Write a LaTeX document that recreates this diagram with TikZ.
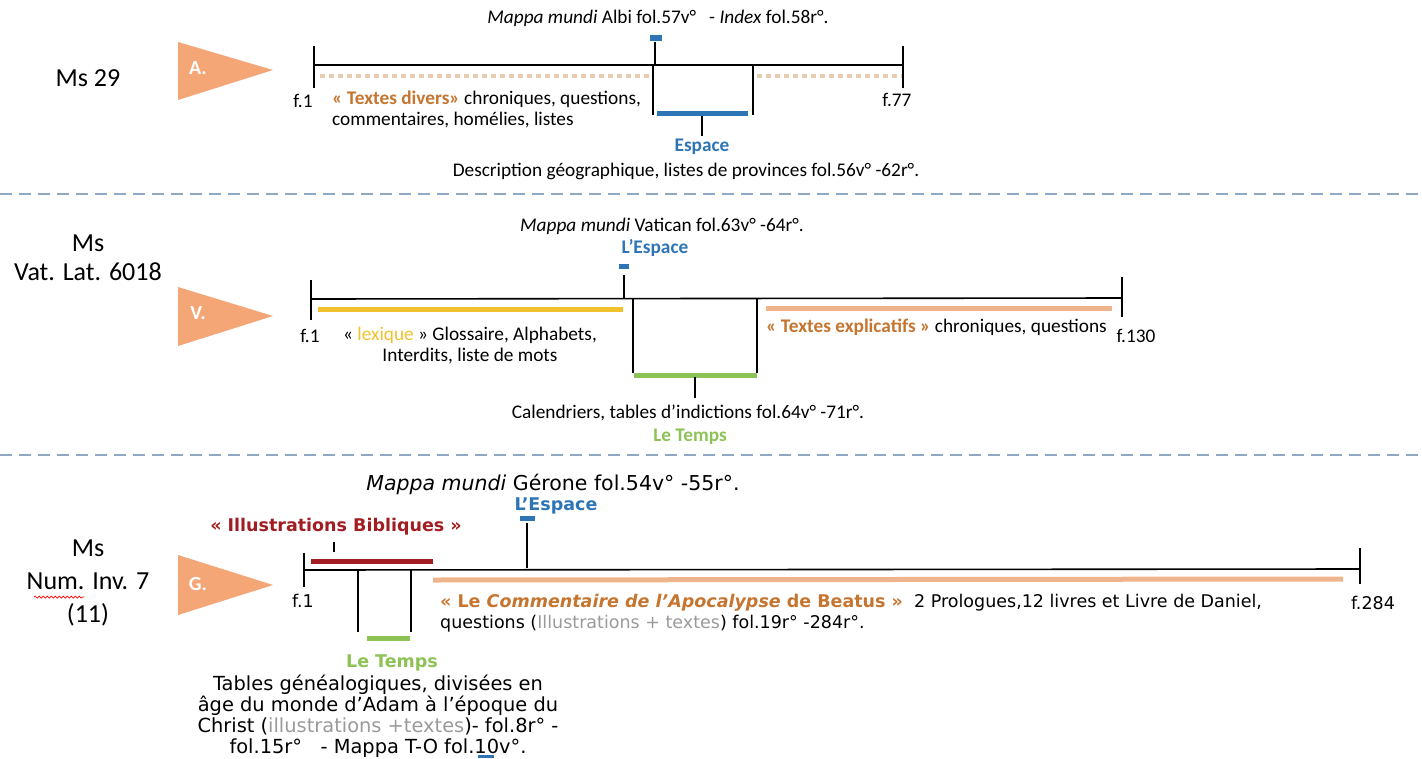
\documentclass[tikz,border=0pt]{standalone}
\usepackage{fontspec}
\setmainfont{Carlito}
\newfontfamily\verd{DejaVu Sans}
\usetikzlibrary{decorations.pathmorphing}
\definecolor{flag}{HTML}{F4A676}
\definecolor{espace}{HTML}{2E75B6}
\definecolor{temps}{HTML}{8DC255}
\definecolor{lexique}{HTML}{F2C12E}
\definecolor{textes}{HTML}{F0B48C}
\definecolor{divers}{HTML}{C5752F}
\definecolor{beige}{HTML}{E9CDB0}
\definecolor{biblique}{HTML}{A11D21}
\definecolor{sep}{HTML}{8EA9C1}
\definecolor{gristxt}{HTML}{9A9A9A}

\tikzset{
  axe/.style={line width=1.6pt},
  bout/.style={line width=2pt},
  barre/.style={line width=5pt},
  flagtri/.style={fill=flag, draw=none},
  flaglbl/.style={text=white, font=\bfseries\fontsize{20}{20}\selectfont},
  mslbl/.style={align=center, font=\fontsize{26}{29}\selectfont},
  txt/.style={font=\fontsize{19.3}{22}\selectfont, inner sep=0pt},
  gtxt/.style={font=\verd\fontsize{17.5}{21}\selectfont, inner sep=0pt}
}

\begin{document}
\begin{tikzpicture}[x=1pt, y=-1pt]
\useasboundingbox (0,0) rectangle (1422,758);

% --- Ms 29
\node[mslbl] (msA) at (88,78) {Ms 29};
\fill[flagtri] (178,42) -- (178,100) -- (273,70) -- cycle;
\node[flaglbl] (flA) at (198,68) {A.};
\draw[axe] (314,65) -- (903,65);
\draw[bout] (314,46) -- (314,88);
\draw[bout] (903,46) -- (903,88);
\draw[beige, line width=4.5pt, dash pattern=on 5pt off 4pt] (320,76) -- (650,76);
\draw[beige, line width=4.5pt, dash pattern=on 5pt off 4pt] (757,76) -- (902,76);
\draw[axe] (655,65) -- (655,42);
\fill[espace] (650,35) rectangle (662,41);
\draw[axe] (653,65) -- (653,115);
\draw[axe] (753,65) -- (753,115);
\draw[espace, barre] (657,113) -- (748,113);
\draw[axe] (702,116) -- (702,136);
\node[txt] (titA) at (658,18) {\textit{Mappa mundi} Albi fol.57v°~~ - \textit{Index} fol.58r°.};
\node[txt] (f1A) at (303,101) {f.1};
\node[txt] (f77A) at (897,100) {f.77};
\node[txt, anchor=west] (divA) at (332,99) {\textcolor{divers}{\bfseries « Textes divers»} chroniques, questions,};
\node[txt, anchor=west] (divB) at (332,120) {commentaires, homélies, listes};
\node[txt, text=espace, font=\bfseries\fontsize{19.3}{22}\selectfont] (espA) at (702,147) {Espace};
\node[txt] (descA) at (686,171) {Description géographique, listes de provinces fol.56v° -62r°.};

\draw[sep, line width=1.2pt, dash pattern=on 12pt off 7pt] (0,194) -- (1422,194);

% --- Ms Vat. Lat. 6018
\node[mslbl] (msV) at (88,258) {Ms\\Vat. Lat. 6018};
\fill[flagtri] (178,287) -- (178,346) -- (273,316) -- cycle;
\node[flaglbl] (flV) at (198,313) {V.};
\draw[axe] (311,299) -- (1122,298);
\draw[bout] (311,280) -- (311,320);
\draw[bout] (1122,277) -- (1122,317);
\draw[lexique, barre] (318,309) -- (623,309);
\draw[textes, barre] (766,308) -- (1112,308);
\draw[axe] (624,299) -- (624,275);
\fill[espace] (619,264) rectangle (629,269);
\draw[axe] (633,299) -- (633,373);
\draw[axe] (757,299) -- (757,373);
\draw[temps, barre] (634,375) -- (757,375);
\draw[axe] (695,377) -- (695,398);
\node[txt] (titV) at (662,226) {\textit{Mappa mundi} Vatican fol.63v° -64r°.};
\node[txt, text=espace, font=\bfseries\fontsize{19.3}{22}\selectfont] (espV) at (655,248) {L’Espace};
\node[txt] (f1V) at (310,336) {f.1};
\node[txt] (f130V) at (1136,336) {f.130};
\node[txt, align=center, font=\fontsize{19.3}{21}\selectfont] (lexV) at (470,346) {« \textcolor{lexique}{lexique} » Glossaire, Alphabets,\\Interdits, liste de mots};
\node[txt, anchor=west] (explV) at (766,327) {\textcolor{divers}{\bfseries « Textes explicatifs »} chroniques, questions};
\node[txt] (calV) at (688,413) {Calendriers, tables d’indictions fol.64v° -71r°.};
\node[txt, text=temps, font=\bfseries\fontsize{19.3}{22}\selectfont] (tpsV) at (690,437) {Le Temps};

\draw[sep, line width=1.2pt, dash pattern=on 12pt off 7pt] (0,455) -- (1422,455);

% --- Ms Num. Inv. 7 (11)
\node[mslbl, font=\fontsize{26}{33}\selectfont] (msG) at (88,583) {Ms\\Num. Inv. 7\\(11)};
\draw[red, decorate, decoration={snake, amplitude=1pt, segment length=4pt}, line width=0.7pt] (34,597) -- (84,597);
\fill[flagtri] (178,555) -- (178,615) -- (273,585) -- cycle;
\node[flaglbl] (flG) at (198,584) {G.};
\draw[axe] (304,570) -- (1360,569);
\draw[bout] (304,553) -- (304,587);
\draw[bout] (1360,548) -- (1360,584);
\draw[biblique, barre] (311,561) -- (433,561);
\draw[axe] (334,552) -- (334,542);
\draw[textes, barre] (433,580) -- (1343,579);
\draw[axe] (527,568) -- (527,523);
\fill[espace] (520,516) rectangle (535,521);
\draw[axe] (358,570) -- (358,632);
\draw[axe] (411,570) -- (411,632);
\draw[temps, barre] (367,638) -- (410,638);
\node[gtxt, font=\verd\fontsize{20.5}{21}\selectfont] (titG) at (553,484) {\textit{Mappa mundi} Gérone fol.54v° -55r°.};
\node[gtxt, text=espace, font=\verd\bfseries\fontsize{17.5}{20}\selectfont] (espG) at (556,506) {L’Espace};
\node[gtxt, text=biblique, font=\verd\bfseries\fontsize{17.5}{20}\selectfont] (bibG) at (336,527) {« Illustrations Bibliques »};
\node[gtxt] (f1G) at (303,601) {f.1};
\node[gtxt] (f284G) at (1373,603) {f.284};
\node[gtxt, anchor=west] (beaG) at (440,603) {\textcolor{divers}{\bfseries « Le \textit{Commentaire de l’Apocalypse} de Beatus »}~~2 Prologues,12 livres et Livre de Daniel,};
\node[gtxt, anchor=west] (queG) at (440,624) {questions (\textcolor{gristxt}{Illustrations + textes}) fol.19r° -284r°.};
\node[gtxt, text=temps, font=\verd\bfseries\fontsize{17.5}{20}\selectfont] (tpsG) at (392,663) {Le Temps};
\node[gtxt, align=center, font=\verd\fontsize{19.4}{21}\selectfont] (genG) at (378,716) {Tables généalogiques, divisées en\\âge du monde d’Adam à l’époque du\\Christ (\textcolor{gristxt}{illustrations +textes})- fol.8r° -\\fol.15r°~~ - Mappa T-O fol.10v°.};
\fill[espace] (478,755) rectangle (494,758);
\end{tikzpicture}
\end{document}
